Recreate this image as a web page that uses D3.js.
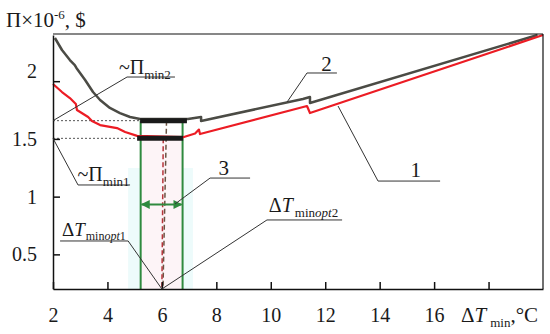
<!DOCTYPE html>
<html><head><meta charset="utf-8">
<script src="https://cdn.jsdelivr.net/npm/d3@7"></script>
</head>
<body style="margin:0;background:#fff">
<svg id="chart" width="550" height="334"></svg>
<script>
// ---- data ----
const xTicks = [2, 4, 6, 8, 10, 12, 14, 16, 18];
const yTicks = [0.5, 1, 1.5, 2];
// curve 2 (gray)
const curve2X = [2.07, 2.33, 2.62, 2.80, 2.86, 3.18, 3.47, 3.73, 4.09, 4.46, 4.83, 5.2, 6.96, 7.44, 7.44, 11.18, 11.44, 11.44, 19.8];
const curve2Y = [2.374, 2.27, 2.183, 2.14, 2.115, 2.01, 1.906, 1.837, 1.768, 1.724, 1.69, 1.672, 1.672, 1.69, 1.655, 1.846, 1.863, 1.811, 2.4];
// curve 1 (red)
const curve1X = [2.0, 2.33, 2.62, 2.84, 2.88, 3.29, 3.43, 3.73, 4.35, 4.65, 5.09, 6.78, 7.22, 7.36, 7.40, 11.33, 11.44, 20.0];
const curve1Y = [1.976, 1.906, 1.854, 1.802, 1.75, 1.69, 1.655, 1.62, 1.594, 1.56, 1.526, 1.515, 1.547, 1.581, 1.542, 1.785, 1.724, 2.4];
// minimum plateaus
const plateauX1 = [5.09, 6.78], plateauY1 = 1.505;
const plateauX2 = [5.2, 6.92],  plateauY2 = 1.658;
// optimum interval (green) and optimum point
const greenX = [5.22, 6.76];
const optX = 6.0;
const arrowY = 0.932;

const FONT = '"Liberation Serif", serif';
const svg = d3.select("#chart");
const x = d3.scaleLinear().domain([2, 20]).range([53, 543]);
const y = d3.scaleLinear().domain([0.2, 2.4]).range([289, 35]);
const y0 = 0.2;

// shades
svg.append("rect").attr("x", x(4.76)).attr("y", y(1.248)).attr("width", x(7.14) - x(4.76)).attr("height", y(y0) - y(1.248)).attr("fill", "#edfbfb");
svg.append("rect").attr("x", x(greenX[0])).attr("y", y(1.5)).attr("width", x(greenX[1]) - x(greenX[0])).attr("height", y(y0) - y(1.5)).attr("fill", "#fdf4f7");

// dotted levels
[[plateauY2, plateauX2[0]], [plateauY1, plateauX1[0]]].forEach(([v, xe]) => {
  svg.append("line").attr("x1", x(2)).attr("x2", x(xe)).attr("y1", y(v)).attr("y2", y(v))
    .attr("stroke", "#555").attr("stroke-width", 1).attr("stroke-dasharray", "2,2");
});

// green vertical lines
greenX.forEach(g => {
  svg.append("line").attr("x1", x(g)).attr("x2", x(g)).attr("y1", y(plateauY2)).attr("y2", y(y0))
    .attr("stroke", "#2f8a3f").attr("stroke-width", 2);
});

// dashed verticals
svg.append("line").attr("x1", x(6.17)).attr("y1", y(plateauY2)).attr("x2", x(6.04)).attr("y2", y(y0))
  .attr("stroke", "#6b5444").attr("stroke-width", 1.5).attr("stroke-dasharray", "5,3");
svg.append("line").attr("x1", x(6.05)).attr("y1", y(plateauY1)).attr("x2", x(optX)).attr("y2", y(y0))
  .attr("stroke", "#b5343a").attr("stroke-width", 1.5).attr("stroke-dasharray", "5,3");

// double arrow
const defs = svg.append("defs");
defs.append("marker").attr("id", "ah").attr("viewBox", "0 0 10 10").attr("refX", 9).attr("refY", 5)
  .attr("markerWidth", 9).attr("markerHeight", 9).attr("markerUnits", "userSpaceOnUse").attr("orient", "auto-start-reverse")
  .append("path").attr("d", "M0,0 L10,5 L0,10 z").attr("fill", "#2f8a3f");
svg.append("line").attr("x1", x(greenX[0]) + 1).attr("x2", x(greenX[1]) - 1).attr("y1", y(arrowY)).attr("y2", y(arrowY))
  .attr("stroke", "#2f8a3f").attr("stroke-width", 2).attr("marker-start", "url(#ah)").attr("marker-end", "url(#ah)");

// curves
const line = d3.line().x(d => x(d[0])).y(d => y(d[1]));
svg.append("path").datum(curve2X.map((v, i) => [v, curve2Y[i]])).attr("d", line)
  .attr("fill", "none").attr("stroke", "#4b4b45").attr("stroke-width", 2.5).attr("stroke-linejoin", "round");
svg.append("path").datum(curve1X.map((v, i) => [v, curve1Y[i]])).attr("d", line)
  .attr("fill", "none").attr("stroke", "#ec1c24").attr("stroke-width", 2.2).attr("stroke-linejoin", "round");

// plateaus
[[plateauX1, plateauY1], [plateauX2, plateauY2]].forEach(([px, v]) => {
  svg.append("line").attr("x1", x(px[0])).attr("x2", x(px[1])).attr("y1", y(v)).attr("y2", y(v))
    .attr("stroke", "#1a1a1a").attr("stroke-width", 5);
});

// axes
const xAxis = d3.axisBottom(x).tickValues(xTicks).tickSize(-7).tickSizeOuter(0).tickPadding(19)
  .tickFormat(d => d === 18 ? "" : String(d));
const gx = svg.append("g").attr("transform", `translate(0,${y(y0)})`).call(xAxis);
const yAxis = d3.axisLeft(y).tickValues(yTicks).tickSize(-7).tickSizeOuter(0).tickPadding(16)
  .tickFormat(d => String(d));
const gy = svg.append("g").attr("transform", `translate(${x(2)},0)`).call(yAxis);
[gx, gy].forEach(g => {
  g.attr("font-size", 20);
  g.select(".domain").attr("stroke", "#111").attr("stroke-width", 1.5);
  g.selectAll(".tick line").attr("stroke", "#111").attr("stroke-width", 1.5);
  g.selectAll(".tick text").attr("fill", "#1a1a1a");
});
gy.selectAll(".tick text").filter(d => d === 2).attr("dy", "-0.2em");
// box
svg.append("line").attr("x1", x(2)).attr("x2", x(20)).attr("y1", y(2.4) - 1).attr("y2", y(2.4) - 1).attr("stroke", "#111").attr("stroke-width", 1.2);
svg.append("line").attr("x1", x(20)).attr("x2", x(20)).attr("y1", y(2.4) - 1).attr("y2", y(y0)).attr("stroke", "#111").attr("stroke-width", 1.2);

// axis titles
const yt = svg.append("text").attr("x", 6).attr("y", 27).attr("font-size", 21);
yt.append("tspan").text("Π×10");
yt.append("tspan").attr("dy", -8).attr("font-size", 13).text("-6");
yt.append("tspan").attr("dy", 8).text(", $");

const xt = svg.append("text").attr("x", 461).attr("y", 322).attr("font-size", 21);
xt.append("tspan").text("Δ");
xt.append("tspan").attr("font-style", "italic").text("T");
xt.append("tspan").attr("dx", 4).attr("dy", 5).attr("font-size", 13).text("min");
xt.append("tspan").attr("dy", -5).text(",°C");

// annotations
const leader = (pts) => svg.append("path").attr("d", d3.line()(pts.map(p => [x(p[0]), y(p[1])])))
  .attr("fill", "none").attr("stroke", "#333").attr("stroke-width", 1);

// ~Π min2
leader([[2, plateauY2], [4.72, 2.036], [6.48, 2.036]]);
let t = svg.append("text").attr("x", x(4.42)).attr("y", y(2.06)).attr("font-size", 20);
t.append("tspan").text("~Π");
t.append("tspan").attr("dy", 5).attr("font-size", 13).text("min2");
// ~Π min1
leader([[2, plateauY1], [2.92, 1.101], [4.83, 1.101]]);
t = svg.append("text").attr("x", x(2.9)).attr("y", y(1.135)).attr("font-size", 20);
t.append("tspan").text("~Π");
t.append("tspan").attr("dy", 5).attr("font-size", 13).text("min1");
// 2
leader([[10.6, 1.82], [11.33, 2.071], [12.43, 2.071]]);
svg.append("text").attr("x", x(11.85)).attr("y", y(2.09)).attr("font-size", 21).text("2");
// 1
leader([[12.47, 1.785], [13.94, 1.135], [16.22, 1.135]]);
svg.append("text").attr("x", x(15.13)).attr("y", y(1.17)).attr("font-size", 21).text("1");
// 3
leader([[6.48, 0.936], [7.77, 1.161], [9.24, 1.161]]);
svg.append("text").attr("x", x(8.08)).attr("y", y(1.187)).attr("font-size", 21).text("3");
// ΔT min opt1
leader([[optX, y0], [4.76, 0.616], [2.26, 0.616]]);
t = svg.append("text").attr("x", x(2.33)).attr("y", y(0.66)).attr("font-size", 19);
t.append("tspan").text("Δ");
t.append("tspan").attr("font-style", "italic").text("T");
t.append("tspan").attr("dx", 1).attr("dy", 4).attr("font-size", 12).text("min");
t.append("tspan").attr("font-size", 12).attr("font-style", "italic").text("opt");
t.append("tspan").attr("font-size", 12).text("1");
// ΔT min opt2
leader([[optX, y0], [9.86, 0.798], [12.62, 0.798]]);
t = svg.append("text").attr("x", x(9.93)).attr("y", y(0.87)).attr("font-size", 20);
t.append("tspan").text("Δ");
t.append("tspan").attr("font-style", "italic").text("T");
t.append("tspan").attr("dx", 2).attr("dy", 5).attr("font-size", 13).text("min");
t.append("tspan").attr("font-size", 13).attr("font-style", "italic").text("opt");
t.append("tspan").attr("font-size", 13).text("2");

// font for every text (inline style)
svg.selectAll("text").style("font-family", FONT).attr("fill", "#1a1a1a");
</script>
</body></html>
